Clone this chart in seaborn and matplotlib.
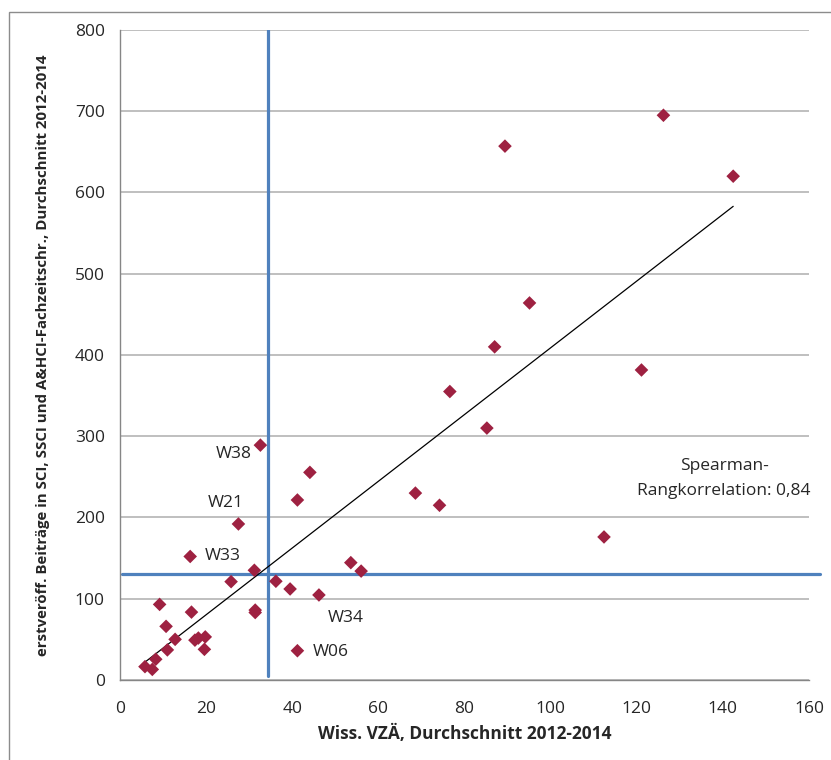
import numpy as np
import pandas as pd
import seaborn as sns
import matplotlib as mpl
from matplotlib import pyplot as plt
from matplotlib.patches import Rectangle

# values
vzae = [126.2, 142.4, 89.4, 95.1, 87.0, 121.1, 76.6, 85.2, 68.6, 74.2,
        112.4, 53.6, 56.0, 44.1, 41.2, 32.6, 27.5, 16.3, 31.2, 25.8,
        36.2, 39.5, 46.2, 41.2, 31.4, 31.4, 9.2, 16.6, 10.7, 12.8,
        11.0, 17.4, 18.2, 19.8, 19.6, 8.3, 5.8, 7.5]
beitraege = [695, 620, 657, 464, 410, 381.5, 355, 310, 230, 215,
             176, 144.4, 134, 255.5, 221.5, 289, 192, 152, 135, 121,
             121.5, 112, 104.6, 36, 86, 83, 93, 83.5, 66, 50,
             37, 49, 51.6, 53, 37.7, 25.5, 16.4, 13]
labels = ['', '', '', '', '', '', '', '', '', '',
          '', '', '', '', '', 'W38', 'W21', 'W33', '', '',
          '', '', 'W34', 'W06', '', '', '', '', '', '',
          '', '', '', '', '', '', '', '']
median_x = 34.4
median_y = 130.5
xticks = [0, 20, 40, 60, 80, 100, 120, 140, 160]
yticks = [0, 100, 200, 300, 400, 500, 600, 700, 800]
spearman_text = 'Spearman-\nRangkorrelation: 0,84'

df = pd.DataFrame({'x': vzae, 'y': beitraege, 'label': labels})

sns.set_style('white')
plt.rcParams['font.family'] = ['Open Sans', 'DejaVu Sans']

fig = plt.figure(figsize=(8.31, 7.60), dpi=100)
ax = fig.add_axes([0.1444, 0.1053, 0.8291, 0.8553])

ax.set_axisbelow(True)
ax.grid(axis='y', color='#b4b4b4', lw=1.2)
ax.grid(axis='x', visible=False)

ax.axvline(median_x, ymin=0.006, ymax=1.0, color='#4f81bd', lw=2.3, zorder=2)
ax.axhline(median_y, xmin=0.003, xmax=1.016, color='#4f81bd', lw=2.3, zorder=2, clip_on=False)

sns.regplot(data=df, x='x', y='y', scatter=False, ci=None, truncate=True,
            line_kws={'color': 'black', 'lw': 0.9, 'zorder': 3}, ax=ax)
sns.scatterplot(data=df, x='x', y='y', marker='D', s=48, color='#9e2141',
                edgecolor='none', zorder=4, ax=ax)

# point labels
offsets = {'W38': (-6.5, -6.5, 'right'), 'W21': (3.6, 15, 'right'),
           'W33': (10.8, 0, 'left'), 'W34': (6.5, -16.6, 'left'),
           'W06': (10.8, -1, 'left')}
for _, r in df[df['label'] != ''].iterrows():
    dx, dy, ha = offsets[r['label']]
    ax.annotate(r['label'], xy=(r['x'], r['y']), xytext=(dx, dy),
                textcoords='offset points', ha=ha, va='center', fontsize=12.5)

ax.text(0.877, 0.31, spearman_text, transform=ax.transAxes, ha='center',
        va='center', fontsize=12.5, linespacing=1.7)

ax.set(xlim=(0, 160), ylim=(0, 800), xticks=xticks, yticks=yticks)
ax.tick_params(axis='both', direction='out', length=5, width=1, color='#868686',
               labelsize=12.5, pad=6)
ax.tick_params(axis='x', pad=10)
for s in ['top', 'right']:
    ax.spines[s].set_visible(False)
for s in ['left', 'bottom']:
    ax.spines[s].set_color('#868686')
    ax.spines[s].set_linewidth(1)

ax.set_xlabel('Wiss. VZÄ, Durchschnitt 2012-2014', fontsize=12.5, fontweight='bold', labelpad=6)
ax.set_ylabel('erstveröff. Beiträge in SCI, SSCI und A&HCI-Fachzeitschr., Durchschnitt 2012-2014',
              fontsize=10.8, fontweight='bold', labelpad=18)

# outer chart frame
fig.patches.append(Rectangle((0.0108, -0.05), 1.2, 0.984 + 0.05, transform=fig.transFigure,
                             fill=False, edgecolor='#8c8c8c', lw=1))

fig.savefig('out.png', dpi=100)
